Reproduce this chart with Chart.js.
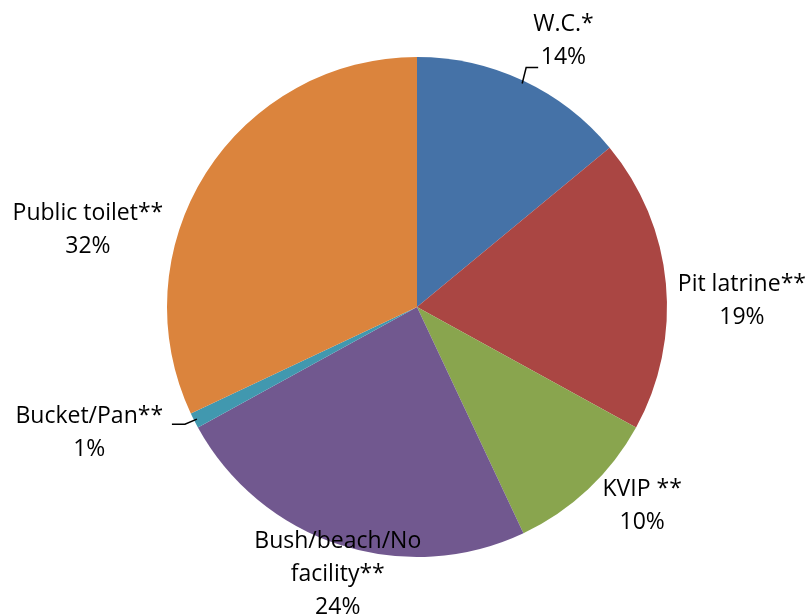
<!DOCTYPE html>
<html>
<head>
<meta charset="utf-8">
<script src="https://cdn.jsdelivr.net/npm/chart.js@4"></script>
<style>
  html, body { margin: 0; padding: 0; background: #fff; }
  #wrap { width: 808px; height: 615px; }
</style>
</head>
<body>
<div id="wrap"><canvas id="chart" width="808" height="615"></canvas></div>
<script>
// sanitation facility shares
const categories = ["W.C.*", "Pit latrine**", "KVIP **", "Bush/beach/No facility**", "Bucket/Pan**", "Public toilet**"];
const shares = [14, 19, 10, 24, 1, 32];
const labelLines = [["W.C.*"], ["Pit latrine**"], ["KVIP **"], ["Bush/beach/No", "facility**"], ["Bucket/Pan**"], ["Public toilet**"]];
const colors = ["#4572A7", "#AA4643", "#89A54E", "#71588F", "#4198AF", "#DB843D"];

// label block offset from the slice's outer edge at mid-angle, and leader flag
const labelOffsets = [[40, -40], [76, 17], [54, 17], [-2, 30], [-105, 12], [-118, 57]];
const leaders = [true, false, false, false, true, false];

const sliceLabels = {
  id: "sliceLabels",
  afterDraw(chart) {
    const ctx = chart.ctx;
    const meta = chart.getDatasetMeta(0);
    const lineH = 33;
    ctx.save();
    ctx.font = "23px 'Open Sans'";
    ctx.fillStyle = "#000";
    ctx.textAlign = "center";
    ctx.textBaseline = "middle";
    meta.data.forEach((arc, i) => {
      const mid = (arc.startAngle + arc.endAngle) / 2;
      const ex = arc.x + Math.cos(mid) * arc.outerRadius;
      const ey = arc.y + Math.sin(mid) * arc.outerRadius;
      const lines = [...labelLines[i], shares[i] + "%"];
      const cx = ex + labelOffsets[i][0];
      const cy = ey + labelOffsets[i][1];
      const top = cy - (lines.length - 1) * lineH / 2;
      lines.forEach((t, j) => ctx.fillText(t, cx, top + j * lineH));
      if (leaders[i]) {
        ctx.strokeStyle = "#000";
        ctx.lineWidth = 1.5;
        ctx.beginPath();
        const sx = ex - Math.cos(mid) * 3, sy = ey - Math.sin(mid) * 3;
        ctx.moveTo(sx, sy);
        if (labelOffsets[i][0] > 0) {
          ctx.lineTo(sx + 4, sy - 16);
          ctx.lineTo(sx + 16, sy - 16);
        } else {
          ctx.lineTo(sx - 12, sy + 5);
          ctx.lineTo(sx - 25, sy + 5);
        }
        ctx.stroke();
      }
    });
    ctx.restore();
  },
};

new Chart(document.getElementById("chart"), {
  type: "pie",
  data: {
    labels: categories,
    datasets: [{ data: shares, backgroundColor: colors, borderWidth: 0 }],
  },
  options: {
    responsive: false,
    animation: false,
    layout: { padding: { left: 167, right: 141, top: 57, bottom: 58 } },
    plugins: { legend: { display: false }, tooltip: { enabled: false } },
  },
  plugins: [sliceLabels],
});
</script>
</body>
</html>
